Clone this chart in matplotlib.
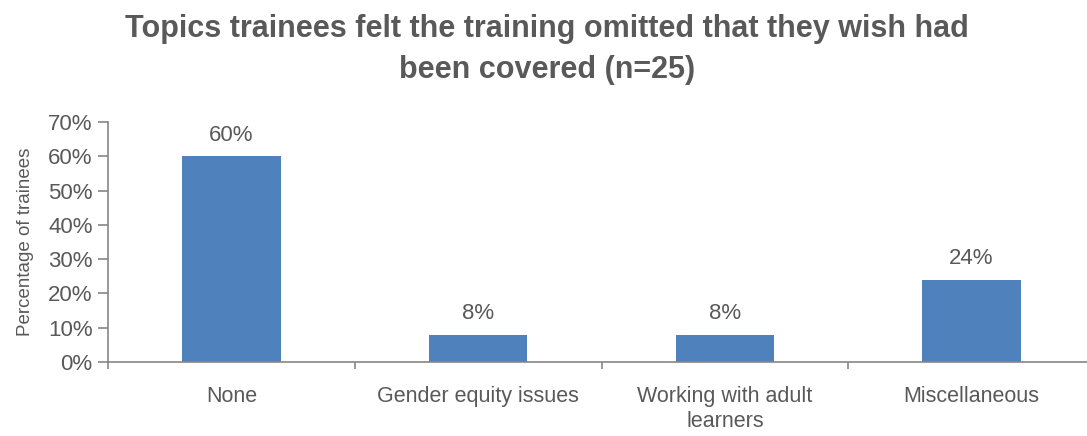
import matplotlib.pyplot as plt
from matplotlib import font_manager

categories = ["None", "Gender equity issues", "Working with adult\nlearners", "Miscellaneous"]
values = [60, 8, 8, 24]
labels = ["60%", "8%", "8%", "24%"]
yticks = [0, 10, 20, 30, 40, 50, 60, 70]

names = {f.name for f in font_manager.fontManager.ttflist}
fam = "Liberation Sans Narrow" if "Liberation Sans Narrow" in names else "Liberation Sans"
plt.rcParams['font.family'] = [fam, 'DejaVu Sans']

txt = "#595959"
axc = "#868686"

fig = plt.figure(figsize=(10.87, 4.36), dpi=100)
ax = fig.add_axes([108/1087, 1 - 362/436, (1095 - 108)/1087, 240/436])

x = range(len(categories))
ax.bar(x, values, width=0.4, color="#4F81BD", zorder=2)
for i, v in enumerate(values):
    ax.text(i, v + 3, labels[i], ha="center", va="bottom", fontsize=16, color=txt)

ax.set_xlim(-0.5, 3.5)
ax.set_ylim(0, 70)
ax.set_yticks(yticks)
ax.set_yticklabels([f"{t}%" for t in yticks], fontsize=16, color=txt)
ax.set_xticks([-0.5, 0.5, 1.5, 2.5, 3.5])
ax.set_xticklabels([])
ax.set_xticks(list(x), minor=True)
ax.set_xticklabels(categories, minor=True, fontsize=15.5, color=txt, linespacing=1.3)
ax.tick_params(axis="x", which="minor", length=0, pad=17)
ax.tick_params(axis="x", which="major", length=5, color=axc, width=1.2)
ax.tick_params(axis="y", length=7, color=axc, width=1.2, pad=4)

for s in ["top", "right"]:
    ax.spines[s].set_visible(False)
for s in ["left", "bottom"]:
    ax.spines[s].set_color(axc)
    ax.spines[s].set_linewidth(1.2)

ax.set_ylabel("Percentage of trainees", fontsize=13.5, color=txt, labelpad=10)

fig.text(0.503, 0.968, "Topics trainees felt the training omitted that they wish had\nbeen covered (n=25)",
         ha="center", va="top", fontsize=22, fontweight="bold", color=txt, linespacing=1.5)

fig.savefig("out.png", dpi=100)
